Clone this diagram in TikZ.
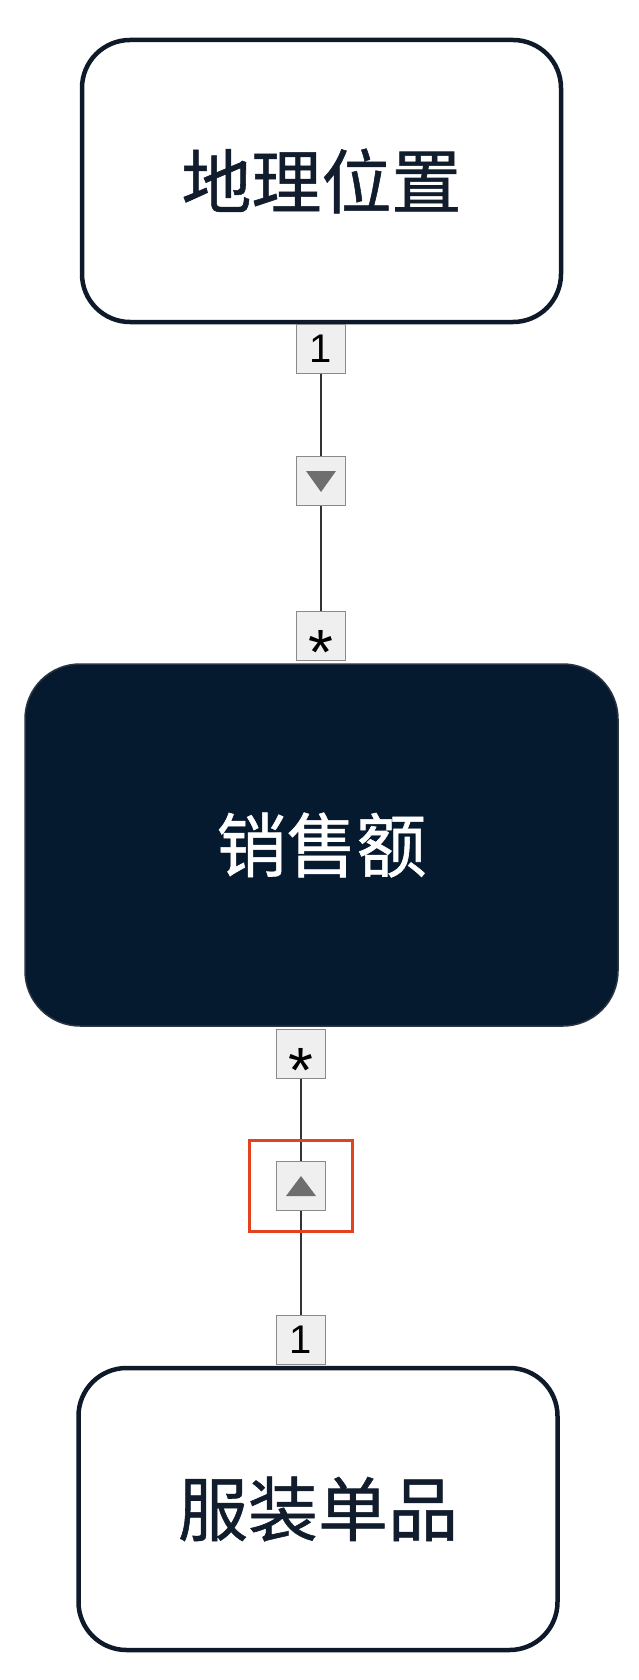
\documentclass[tikz,border=0pt]{standalone}
\usepackage{fontspec}
\newfontfamily\cjk[FakeBold=0.8]{Noto Sans CJK SC}
\newfontfamily\labfont{Liberation Sans}
\definecolor{navy}{HTML}{0E1A2A}
\definecolor{ink}{HTML}{111C2C}
\definecolor{factfill}{HTML}{061A2F}
\definecolor{factedge}{HTML}{2A3442}
\definecolor{labfill}{HTML}{EFEFEF}
\definecolor{labedge}{HTML}{8A8A8A}
\definecolor{tri}{HTML}{6E6E6E}
\definecolor{connc}{HTML}{333333}
\definecolor{redc}{HTML}{E2431E}
\begin{document}
\begin{tikzpicture}[x=1pt,y=-1pt,
  entity/.style={draw=navy, line width=4.5pt, rounded corners=48pt, fill=white, text=ink,
    font=\cjk\fontsize{70}{84}\selectfont, minimum width=479pt, minimum height=282pt, inner sep=0pt},
  fact/.style={draw=factedge, line width=1.5pt, rounded corners=55pt, fill=factfill, text=white,
    font=\cjk\fontsize{70}{84}\selectfont, minimum width=593pt, minimum height=362pt, inner sep=0pt},
  mult/.style={draw=labedge, fill=labfill, line width=1.5pt, minimum width=49pt, minimum height=49pt,
    inner sep=0pt, text=black, font=\labfont\fontsize{40}{40}\selectfont},
  starlab/.style={mult, font=\labfont\fontsize{64}{64}\selectfont},
  conn/.style={draw=connc, line width=2.4pt},
  hilite/.style={draw=redc, line width=3pt, minimum width=103pt, minimum height=91pt, inner sep=0pt}
]
\useasboundingbox (0,0) rectangle (638,1680);
\fill[white] (0,0) rectangle (638,1680);

% entities
\node[entity] (geo) at (321.5,181) {地理位置};
\node[fact] (sales) at (321.5,845) {销售额};
\node[entity] (item) at (318,1509) {服装单品};

% top relation
\node[mult] (m1) at (321,349) {1};
\node[mult] (d1) at (321,481) {};
\node[starlab] (s1) at (321,636) {\raisebox{-0.6em}[0pt][0pt]{*}};
\draw[conn] (m1.south) -- (d1.north);
\draw[conn] (d1.south) -- (s1.north);
\fill[tri] ([shift={(-15,-10)}]d1.center) -- ([shift={(15,-10)}]d1.center) -- ([shift={(0,11)}]d1.center) -- cycle;

% bottom relation
\node[starlab] (s2) at (301,1054) {\raisebox{-0.6em}[0pt][0pt]{*}};
\node[mult] (d2) at (301,1186) {};
\node[mult] (m2) at (301,1340) {1};
\draw[conn] (s2.south) -- (d2.north);
\draw[conn] (d2.south) -- (m2.north);
\fill[tri] ([shift={(-15,10)}]d2.center) -- ([shift={(15,10)}]d2.center) -- ([shift={(0,-10)}]d2.center) -- cycle;
\node[hilite] (hl) at (300.5,1186) {};
\end{tikzpicture}
\end{document}
